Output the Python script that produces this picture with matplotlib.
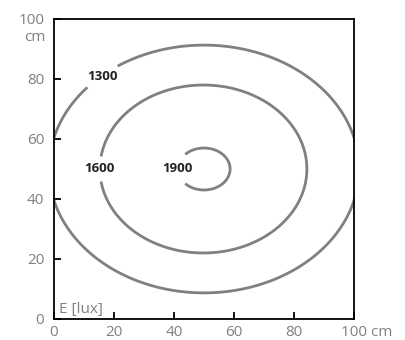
import matplotlib
matplotlib.use("Agg")
import numpy as np
import matplotlib.pyplot as plt
import matplotlib.transforms as mtransforms

plt.rcParams['font.family'] = ['Open Sans', 'DejaVu Sans']

# contour levels (lux) and their ellipse geometry (cm)
levels = [1300, 1600, 1900]
centre_x = [50.0, 49.8, 50.0]
centre_y = [50.0, 50.0, 50.0]
semi_x = [51.7, 34.5, 8.7]
semi_y = [41.3, 28.0, 7.0]
# gap in each curve where its label sits (degrees)
gap_from = [130, 173, 142]
gap_to = [145, 187, 218]
label_x = [16.3, 15.3, 41.3]
label_y = [81.0, 50.0, 50.3]

ticks = [0, 20, 40, 60, 80, 100]
xtick_labels = ["0", "20", "40", "60", "80", "100 cm"]
ytick_labels = ["0", "20", "40", "60", "80", "100"]

grey = "#808080"

fig = plt.figure(figsize=(4.05, 3.4), dpi=100)
ax = fig.add_axes([54 / 405, 21 / 340, 300 / 405, 300 / 340])
ax.set_xlim(0, 100)
ax.set_ylim(0, 100)

for i in range(len(levels)):
    # walk round the ellipse, skipping the label gap
    t = np.radians(np.linspace(gap_to[i], gap_from[i] + 360, 400))
    # geometric angle -> point on ellipse
    r = 1.0 / np.sqrt((np.cos(t) / semi_x[i]) ** 2 + (np.sin(t) / semi_y[i]) ** 2)
    ax.plot(centre_x[i] + r * np.cos(t), centre_y[i] + r * np.sin(t),
            color=grey, lw=2.0, solid_capstyle="butt")
    ax.text(label_x[i], label_y[i], str(levels[i]), ha="center", va="center",
            fontsize=9.5, fontweight="bold", color="#222222")

ax.set_xticks(ticks)
ax.set_yticks(ticks)
ax.set_xticklabels(xtick_labels)
ax.set_yticklabels(ytick_labels)
ax.tick_params(direction="in", length=5, width=1.3, color="black",
               labelsize=11, labelcolor=grey, pad=4)
ax.tick_params(axis="y", pad=7)
for s in ax.spines.values():
    s.set_linewidth(1.3)
    s.set_color("black")

# push the "100 cm" label right so the number sits near its tick
last = ax.get_xticklabels()[-1]
last.set_transform(last.get_transform() +
                   mtransforms.ScaledTranslation(13 / 100, 0, fig.dpi_scale_trans))

ax.text(1.7, 2.0, "E [lux]", fontsize=11, color=grey, ha="left", va="baseline")
ax.text(-0.028, 0.938, "cm", transform=ax.transAxes, fontsize=11, color=grey,
        ha="right", va="center")

fig.savefig("out.png", dpi=100)
